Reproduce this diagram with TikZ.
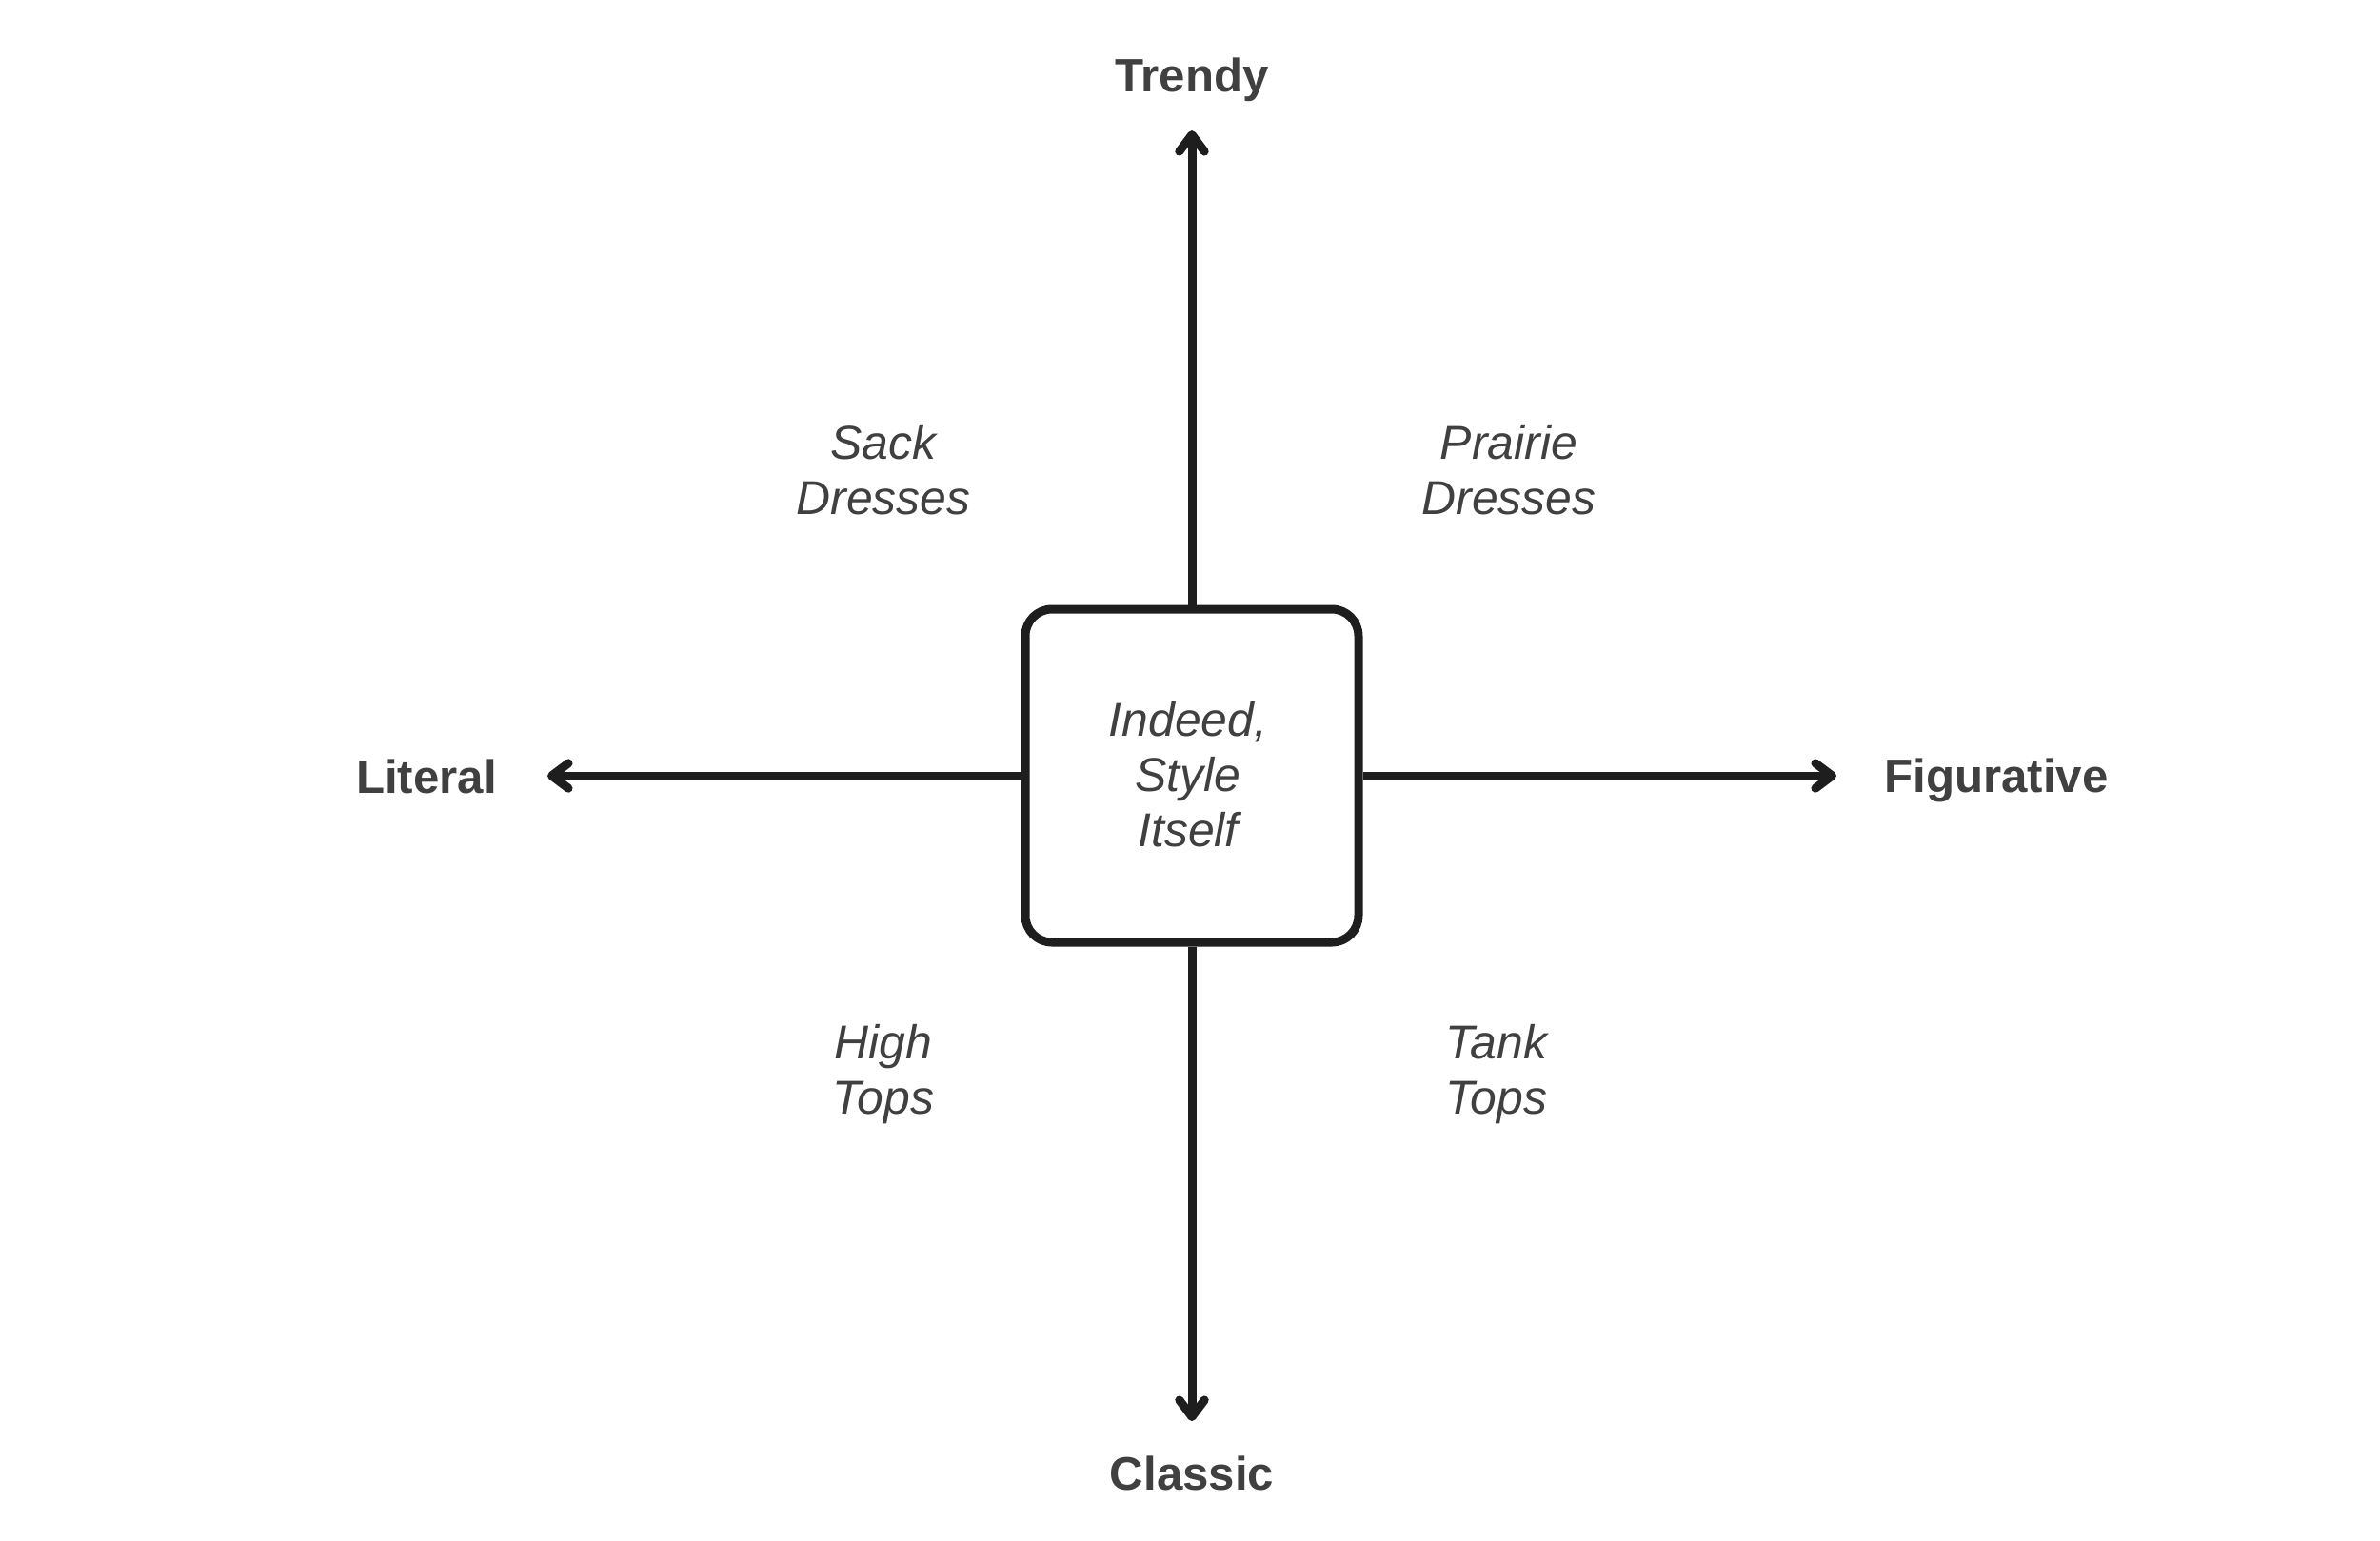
\documentclass[tikz,border=0pt]{standalone}
\usepackage{fontspec}
\setmainfont{Liberation Sans}
\usepackage{tikz}
\usetikzlibrary{arrows.meta, positioning}

\definecolor{inkline}{HTML}{1E1E1E}
\definecolor{inktext}{HTML}{404040}

\begin{document}
\begin{tikzpicture}[on grid,
    axis/.style={draw=inkline, line width=0.09cm, -{Straight Barb[length=5pt, width=7.5pt, round]}},
    core/.style={draw=inkline, line width=0.09cm, rounded corners=8pt, fill=white,
                 minimum width=3.5cm, minimum height=3.5cm, inner sep=0pt},
    pole/.style={text=inktext, font=\fontsize{14}{16.5}\selectfont\bfseries, inner sep=0pt},
    item/.style={text=inktext, font=\fontsize{14.2}{16.5}\selectfont\itshape, align=center, inner sep=0pt}]
   \useasboundingbox (-12.52,8.15) rectangle (12.48,-8.03);

   \node[core] (box) {};
   \node[item] (self) [left=0.04cm of box, yshift=0.01cm] {Indeed,\\Style\\Itself};

   % Arrow ends
   \coordinate[above=6.78cm of box] (tipT);
   \coordinate[below=6.78cm of box] (tipC);
   \coordinate[left=6.77cm of box] (tipL);
   \coordinate[right=6.77cm of box] (tipF);

   % Poles
   \node[pole] (trendy) [above=7.31cm of box] {Trendy};
   \node[pole] (classic) [below=7.33cm of box] {Classic};
   \node[pole] (literal) [left=8.04cm of box, yshift=-0.01cm] {Literal};
   \node[pole] (figurative) [right=8.45cm of box, yshift=-0.05cm] {Figurative};

   % Quadrants
   \node[item] (sack) [above left=3.21cm and 3.24cm of box] {Sack\\Dresses};
   \node[item] (prairie) [above right=3.21cm and 3.33cm of box] {Prairie\\Dresses};
   \node[item] (high) [below left=3.14cm and 3.24cm of box] {High\\Tops};
   \node[item] (tank) [below right=3.14cm and 3.20cm of box] {Tank\\Tops};

   \draw[axis] (box.north) -- (tipT);
   \draw[axis] (box.south) -- (tipC);
   \draw[axis] (box.west) -- (tipL);
   \draw[axis] (box.east) -- (tipF);
\end{tikzpicture}
\end{document}
